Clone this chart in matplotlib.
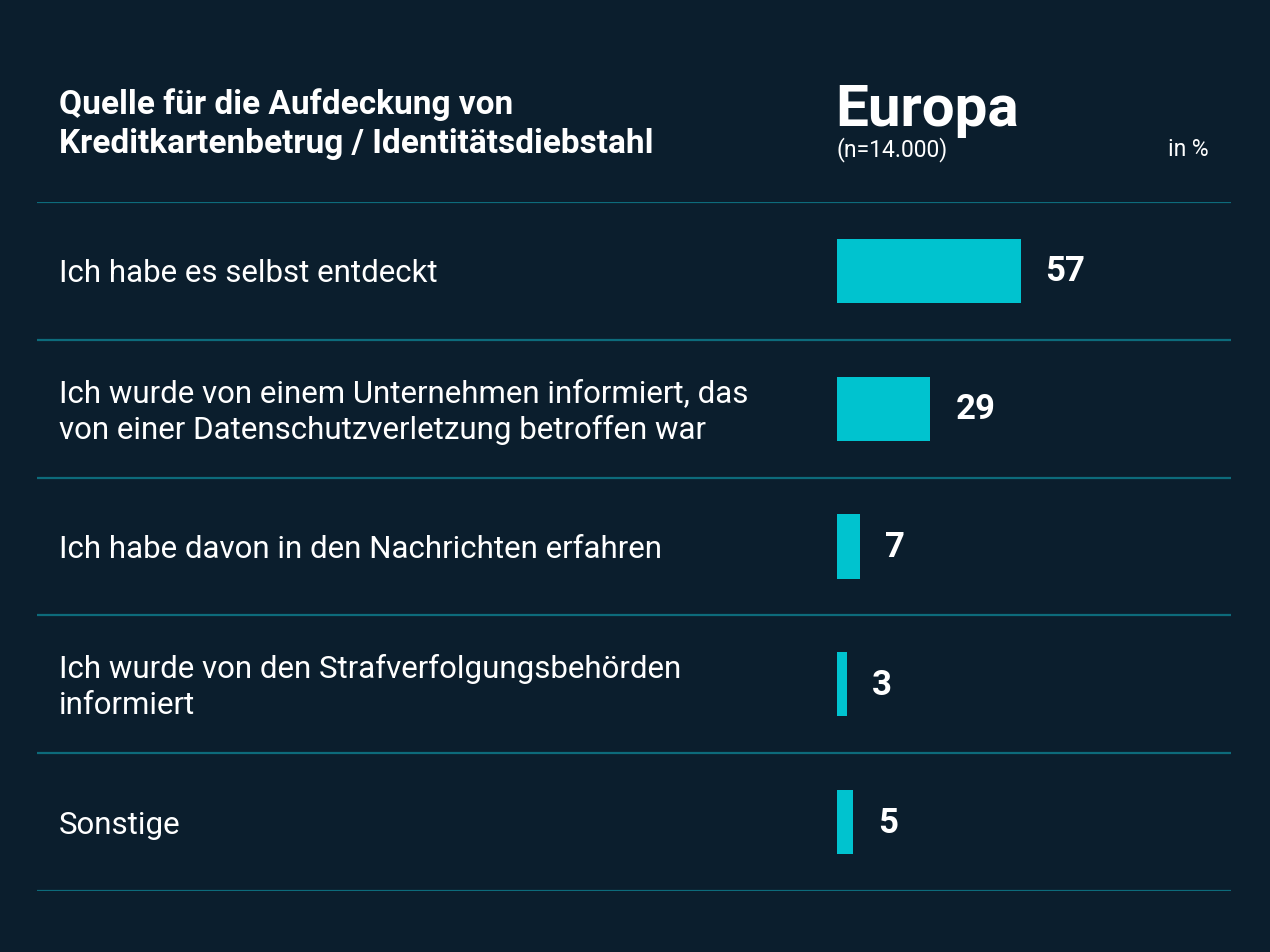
import matplotlib
matplotlib.use("Agg")
import matplotlib.pyplot as plt
from matplotlib import font_manager

# Daten
categories = [
    "Ich habe es selbst entdeckt",
    "Ich wurde von einem Unternehmen informiert, das\nvon einer Datenschutzverletzung betroffen war",
    "Ich habe davon in den Nachrichten erfahren",
    "Ich wurde von den Strafverfolgungsbehörden\ninformiert",
    "Sonstige",
]
values = [57, 29, 7, 3, 5]
title = "Quelle für die Aufdeckung von\nKreditkartenbetrug / Identitätsdiebstahl"
region = "Europa"
sample = "(n=14.000)"
unit = "in %"

BG = "#0b1e2d"
BAR = "#00c3cf"
LINE = "#0d6b7b"
WHITE = "#ffffff"

W, H = 1270, 953
DPI = 100

def fx(px):
    return px / W

def fy(py):
    return 1 - py / H

def rect(x0, y0, x1, y1):
    return [fx(x0), fy(y1), (x1 - x0) / W, (y1 - y0) / H]

fams = {f.name for f in font_manager.fontManager.ttflist}
FONT = "Roboto" if "Roboto" in fams else "DejaVu Sans"
plt.rcParams["font.family"] = [FONT, "DejaVu Sans"]

fig = plt.figure(figsize=(W / DPI, H / DPI), dpi=DPI, facecolor=BG)

# Raster mit Trennlinien und Beschriftungen
grid_ax = fig.add_axes(rect(37, 203, 1231, 892))
grid_ax.set_facecolor("none")
grid_ax.set_xlim(0, 1)
grid_ax.set_ylim(len(categories), 0)
grid_ax.axis("off")
for i in range(len(categories) + 1):
    grid_ax.axhline(i, color=LINE, lw=1.6)
for i, lab in enumerate(categories):
    grid_ax.text((59 - 37) / (1231 - 37), i + 0.515, lab, color=WHITE,
                 fontsize=22.5, fontweight="normal", va="center", ha="left",
                 linespacing=1.3)

# Balken
bar_ax = fig.add_axes(rect(837, 203, 1231, 892))
bar_ax.set_facecolor("none")
bar_ax.set_xlim(0, (1231 - 837) / 3.22)
bar_ax.set_ylim(len(categories), 0)
bar_ax.axis("off")
ypos = [i + 0.5 for i in range(len(values))]
bars = bar_ax.barh(ypos, values, height=0.465, left=0, color=BAR)
bar_ax.bar_label(bars, labels=[str(v) for v in values], padding=18,
                 color=WHITE, fontsize=25, fontweight="bold")

# Kopfzeile
fig.text(fx(59), fy(124), title, color=WHITE, fontsize=24, fontweight="bold",
         va="center", ha="left", linespacing=1.25)
fig.text(fx(835), fy(111), region, color=WHITE, fontsize=42,
         fontweight="bold", va="center", ha="left")
fig.text(fx(836), fy(150), sample, color=WHITE, fontsize=16.5,
         fontweight="normal", va="center", ha="left")
fig.text(fx(1209), fy(150), unit, color=WHITE, fontsize=16.5,
         fontweight="normal", va="center", ha="right")

fig.savefig("out.png", dpi=DPI, facecolor=BG)
